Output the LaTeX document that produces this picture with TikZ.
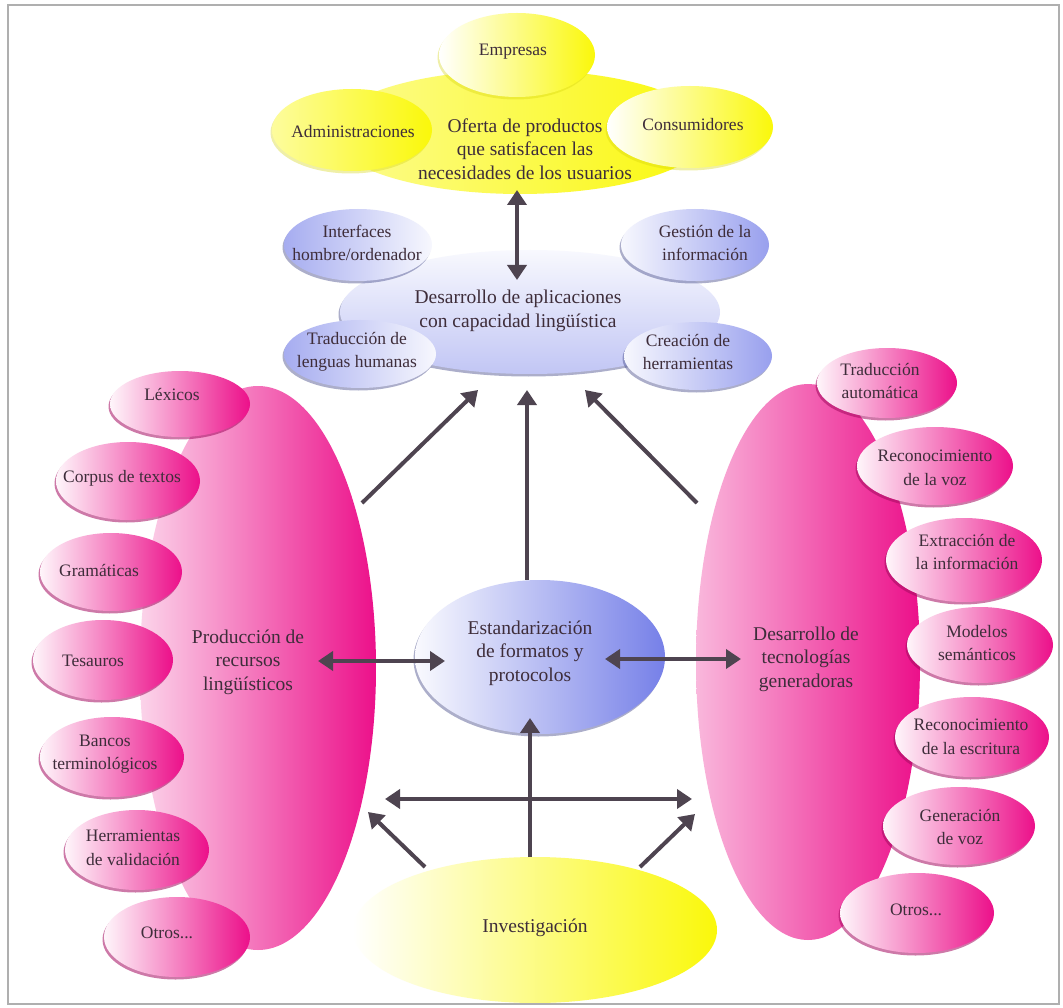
\documentclass[tikz,border=0pt]{standalone}
\usepackage{fontspec}
\setmainfont{Liberation Serif}
\usetikzlibrary{shapes.geometric,arrows.meta,shadows}
\definecolor{pinkC}{RGB}{236,16,138}
\definecolor{blueC}{RGB}{118,128,232}
\definecolor{yelC}{RGB}{250,248,10}
\definecolor{txtC}{RGB}{62,45,58}
\definecolor{arrC}{RGB}{78,68,80}
\definecolor{frameC}{RGB}{175,175,175}
\tikzset{
  bub/.style={ellipse, inner sep=0pt, draw=none},
  psh/.style={general shadow={shadow xshift=-1.5pt, shadow yshift=-2.5pt, fill=pinkC!70!black, opacity=0.55}},
  bsh/.style={general shadow={shadow xshift=-1.5pt, shadow yshift=-2.5pt, fill=blueC!60!black, opacity=0.45}},
  ysh/.style={general shadow={shadow xshift=-1.5pt, shadow yshift=-2.5pt, fill=yelC!85!black, opacity=0.35}},
  pinkbub/.style={psh, left color=pinkC!4, right color=pinkC},
  bigpinkL/.style={bub, left color=pinkC!18, right color=pinkC},
  bigpinkR/.style={bub, left color=pinkC!30, right color=pinkC},
  blueL/.style={bsh, left color=blueC!65, right color=blueC!6},
  blueR/.style={bsh, left color=blueC!6, right color=blueC!75},
  bluemain/.style={bub, bsh, top color=blueC!5, bottom color=blueC!45},
  bluestd/.style={bub, bsh, left color=blueC!4, right color=blueC},
  yelW/.style={ysh, left color=white, right color=yelC},
  yelP/.style={ysh, left color=yelC!40, right color=yelC},
  yelmain/.style={bub, left color=yelC!45, right color=yelC},
  yelinv/.style={bub, left color=white, right color=yelC},
  lbl/.style={text=txtC, align=center, inner sep=0pt, font=\fontsize{17.5}{23.5}\selectfont},
  mainlbl/.style={lbl, font=\fontsize{19.5}{23.5}\selectfont},
  arr/.style={draw=arrC, line width=4pt, -{Triangle[length=15pt,width=19pt]}},
  darr/.style={draw=arrC, line width=4pt, {Triangle[length=15pt,width=19pt]}-{Triangle[length=15pt,width=19pt]}},
}
\newcommand\mybubble[9]{%
  \node[bub,#2, minimum width=2*#5pt, minimum height=2*#6pt] (#1) at (#3,#4) {};
  \node[lbl] (#1T) at (#7,#8) {#9};}
\begin{document}
\begin{tikzpicture}[x=1pt,y=-1pt]
\fill[white] (0,0) rectangle (1063,1008);
\useasboundingbox (0,0) rectangle (1063,1008);

% big pink shapes
\node[bigpinkL, minimum width=236pt, minimum height=564pt] (prod) at (258,668) {};
\node[mainlbl] (prodT) at (248,662) {Producción de\\recursos\\lingüísticos};
\node[bigpinkR, minimum width=224pt, minimum height=556pt] (desg) at (808,662) {};
\node[mainlbl] (desgT) at (806,659) {Desarrollo de\\tecnologías\\generadoras};

% left pink satellites
\mybubble{lex}{pinkbub}{180}{404}{70}{33}{172}{395}{Léxicos}
\mybubble{corp}{pinkbub}{128}{481}{72}{39}{122}{478}{Corpus de textos}
\mybubble{gram}{pinkbub}{111}{572}{71}{39}{99}{570}{Gramáticas}
\mybubble{tes}{pinkbub}{103}{660}{70}{40}{93}{661}{Tesauros}
\mybubble{banc}{pinkbub}{112}{757}{72}{40}{105}{754}{Bancos\\terminológicos}
\mybubble{herr}{pinkbub}{137}{850}{72}{40}{133}{848}{Herramientas\\de validación}
\mybubble{otrL}{pinkbub}{177}{937}{73}{40}{167}{933}{Otros...}

% right pink satellites
\mybubble{tra}{pinkbub}{887}{383}{70}{35}{880}{381}{Traducción\\automática}
\mybubble{rvoz}{pinkbub}{935}{466}{78}{39}{935}{468}{Reconocimiento\\de la voz}
\mybubble{extr}{pinkbub}{964}{560}{78}{42}{967}{552}{Extracción de\\la información}
\mybubble{mod}{pinkbub}{980}{645}{73}{38}{977}{643}{Modelos\\semánticos}
\mybubble{resc}{pinkbub}{972}{737}{77}{40}{971}{737}{Reconocimiento\\de la escritura}
\mybubble{gvoz}{pinkbub}{959}{826}{76}{39}{960}{827}{Generación\\de voz}
\mybubble{otrR}{pinkbub}{917}{913}{77}{40}{916}{910}{Otros...}

% top yellow cluster
\node[yelmain, minimum width=380pt, minimum height=124pt] (ofer) at (520,132) {};
\mybubble{emp}{yelW}{517}{55}{78}{42}{513}{52}{Empresas}
\mybubble{adm}{yelP}{352}{130}{80}{41}{353}{132}{Administraciones}
\mybubble{cons}{yelW}{690}{127}{83}{41}{693}{125}{Consumidores}
\node[mainlbl] (oferT) at (525,149) {Oferta de productos\\que satisfacen las\\necesidades de los usuarios};

% blue cluster
\node[bluemain, minimum width=380pt, minimum height=124pt] (desa) at (530,312) {};
\node[mainlbl] (desaT) at (518,311) {Desarrollo de aplicaciones\\con capacidad lingüística};
\mybubble{intf}{blueL}{358}{245}{74}{36}{357}{243}{Interfaces\\hombre/ordenador}
\mybubble{gest}{blueR}{695}{245}{74}{36}{705}{243}{Gestión de la\\información}
\mybubble{trad}{blueL}{360}{354}{76}{34}{357}{352}{Traducción de\\lenguas humanas}
\mybubble{crea}{blueR}{698}{356}{74}{34}{688}{352}{Creación de\\herramientas}

% standardisation and research
\node[bluestd, minimum width=250pt, minimum height=154pt] (estd) at (540,657) {};
\node[mainlbl] (estdT) at (530,653) {Estandarización\\de formatos y\\protocolos};
\node[yelinv, minimum width=364pt, minimum height=146pt] (inv) at (535,930) {};
\node[mainlbl] (invT) at (535,928) {Investigación};

% connector ends
\coordinate (a1s) at (517,190);  \coordinate (a1e) at (517,280);
\coordinate (a2s) at (362,503);  \coordinate (a2e) at (478,390);
\coordinate (a3s) at (527,580);  \coordinate (a3e) at (527,390);
\coordinate (a4s) at (697,503);  \coordinate (a4e) at (585,390);
\coordinate (a5s) at (318,661);  \coordinate (a5e) at (445,661);
\coordinate (a6s) at (605,659);  \coordinate (a6e) at (741,659);
\coordinate (a7s) at (530,857);  \coordinate (a7e) at (530,718);
\coordinate (a8s) at (385,799);  \coordinate (a8e) at (692,799);
\coordinate (a9s) at (425,867);  \coordinate (a9e) at (368,812);
\coordinate (a10s) at (640,867); \coordinate (a10e) at (695,814);

\draw[darr] (a1s) -- (a1e);
\draw[arr] (a2s) -- (a2e);
\draw[arr] (a3s) -- (a3e);
\draw[arr] (a4s) -- (a4e);
\draw[darr] (a5s) -- (a5e);
\draw[darr] (a6s) -- (a6e);
\draw[arr] (a7s) -- (a7e);
\draw[darr] (a8s) -- (a8e);
\draw[arr] (a9s) -- (a9e);
\draw[arr] (a10s) -- (a10e);

% frame
\draw[frameC, line width=2.5pt] (8,5) rectangle (1059,1004);
\end{tikzpicture}
\end{document}
